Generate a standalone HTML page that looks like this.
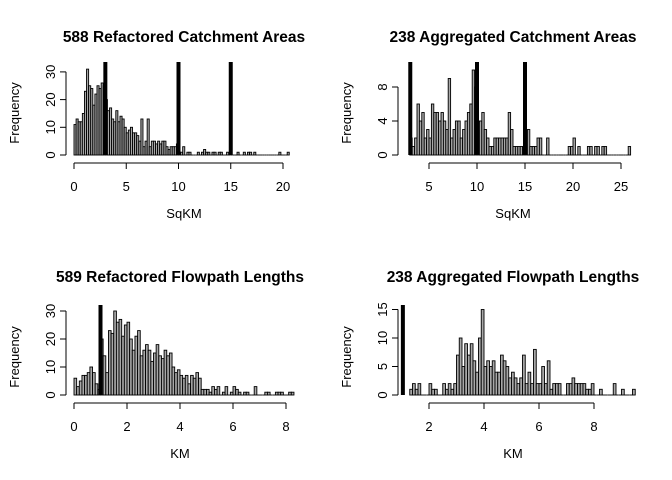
<!DOCTYPE html>
<html><head><meta charset="utf-8"><style>
body{margin:0;background:#fff}
svg{display:block;font-family:"Liberation Sans",Arial,sans-serif}
</style></head><body>
<svg id="c" width="672" height="480" viewBox="0 0 672 480"></svg>
<script>
const p1Values=[11,13,12,12,15,23,31,25,24,18,22,25,24,26,25,20,16,17,13,12,16,12,14,13,10,8,9,10,8,8,7,5,13,3,5,13,3,5,5,4,5,4,5,5,3,2,3,3,3,4,1,1,3,0,1,1,0,0,0,1,0,1,2,1,1,0,1,1,0,1,1,0,0,1,0,0,0,0,1,0,0,1,0,1,1,0,1,0,0,0,0,0,0,0,0,0,0,0,1,0,0,0,1];
const p1Lines=[3,10,15];
const p1XTicks=[0,5,10,15,20];
const p1YTicks=[0,10,20,30];
const p2Values=[2,1,2,6,4,5,2,3,2,6,5,5,4,5,4,3,9,2,3,4,4,2,3,4,5,6,10,8,3,4,5,3,2,1,1,2,2,2,2,2,2,5,3,1,1,1,1,1,1,3,1,1,1,2,2,0,0,2,0,0,0,0,0,0,0,0,1,1,2,0,1,0,0,0,1,1,0,1,1,0,1,1,0,0,0,0,0,0,0,0,0,1];
const p2Lines=[3.05,10,15];
const p2XTicks=[5,10,15,20,25];
const p2YTicks=[0,4,8];
const p3Values=[6,3,5,7,7,8,10,8,4,2,20,14,8,23,22,30,26,27,21,25,26,20,16,21,23,14,16,18,16,12,15,18,14,13,16,14,15,10,8,9,7,6,7,4,7,6,8,6,2,2,2,1,3,2,3,0,1,3,0,1,3,2,1,0,1,1,0,0,3,0,0,0,1,1,0,0,1,1,1,0,0,1,1];
const p3Lines=[1];
const p3XTicks=[0,2,4,6,8];
const p3YTicks=[0,10,20,30];
const p4Values=[1,2,1,2,0,0,0,2,1,1,0,0,2,1,2,1,2,7,10,5,9,7,9,6,4,10,15,5,6,5,6,4,4,7,6,5,3,4,3,2,3,7,2,4,2,8,2,2,5,2,6,1,2,2,2,0,0,2,2,3,2,2,2,2,1,1,2,0,0,1,0,0,0,0,2,0,0,1,0,0,0,1];
const p4Lines=[1.05];
const p4XTicks=[2,4,6,8];
const p4YTicks=[0,5,10,15];

const NS="http://www.w3.org/2000/svg";
const svg=document.getElementById('c');
function mk(tag,attrs,parent){const e=document.createElementNS(NS,tag);for(const k in attrs)e.setAttribute(k,attrs[k]);(parent||svg).appendChild(e);return e;}
function panel(cfg){
  const g=mk('g',{});
  
  
  const sx=v=>cfg.x0+(v-cfg.xv0)*cfg.xs;
  const sy=v=>cfg.y0-v*cfg.ys;
  cfg.values.forEach((v,i)=>{
    if(v<=0){const l=mk('line',{x1:sx(cfg.start+i*cfg.bw),x2:sx(cfg.start+(i+1)*cfg.bw),y1:cfg.y0,y2:cfg.y0,stroke:'#000','stroke-width':0.9},g);
      
      return;}
    const r=mk('rect',{x:sx(cfg.start+i*cfg.bw),y:sy(v),width:cfg.bw*cfg.xs,height:v*cfg.ys,fill:'#a8a8a8',stroke:'#000','stroke-width':0.9},g);
    
    
  });
  cfg.lines.forEach(v=>{
    const l=mk('line',{x1:sx(v),x2:sx(v),y1:cfg.lineTop,y2:cfg.y0,stroke:'#000','stroke-width':4},g);
    
    
  });
  const xt=cfg.xticks;
  const xa=mk('line',{x1:sx(xt[0]),x2:sx(xt[xt.length-1]),y1:cfg.y0+8,y2:cfg.y0+8,stroke:'#000'},g);
  
  
  xt.forEach(t=>{
    mk('line',{x1:sx(t),x2:sx(t),y1:cfg.y0+8,y2:cfg.y0+14,stroke:'#000'},g);
    const tx=mk('text',{x:sx(t),y:cfg.y0+36,'text-anchor':'middle','font-size':13},g);
    tx.textContent=t;
    
    
  });
  const yt=cfg.yticks;
  const ax=cfg.yAxisX;
  const ya=mk('line',{x1:ax,x2:ax,y1:sy(yt[yt.length-1]),y2:sy(yt[0]),stroke:'#000'},g);
  
  
  yt.forEach(t=>{
    mk('line',{x1:ax-6,x2:ax,y1:sy(t),y2:sy(t),stroke:'#000'},g);
    const tx=mk('text',{x:ax-11,y:sy(t),'text-anchor':'middle','font-size':13,transform:`rotate(-90 ${ax-11} ${sy(t)})`},g);
    tx.textContent=t;
    
    
  });
  const ti=mk('text',{x:cfg.cx,y:cfg.titleY,'text-anchor':'middle','font-size':15.5,'font-weight':'bold'},g);
  ti.textContent=cfg.title;
  
  
  const xl=mk('text',{x:cfg.cx,y:cfg.y0+63,'text-anchor':'middle','font-size':13},g);
  xl.textContent=cfg.xlab;
  
  
  const fx=cfg.yAxisX-47, fy=cfg.yMid;
  const yl=mk('text',{x:fx,y:fy,'text-anchor':'middle','font-size':13,transform:`rotate(-90 ${fx} ${fy})`},g);
  yl.textContent='Frequency';
  
  
}
panel({name:'panel-refactored-catchments',values:p1Values,start:0,bw:0.2,lines:p1Lines,xticks:p1XTicks,yticks:p1YTicks,
 x0:74,xv0:0,xs:10.45,y0:155,ys:2.77,lineTop:62,yAxisX:66,cx:184,titleY:42,yMid:113,title:'588 Refactored Catchment Areas',xlab:'SqKM'});
panel({name:'panel-aggregated-catchments',values:p2Values,start:3.0,bw:0.25,lines:p2Lines,xticks:p2XTicks,yticks:p2YTicks,
 x0:429,xv0:5,xs:9.6,y0:155,ys:8.5,lineTop:62,yAxisX:398,cx:513,titleY:42,yMid:113,title:'238 Aggregated Catchment Areas',xlab:'SqKM'});
panel({name:'panel-refactored-flowpaths',values:p3Values,start:0,bw:0.1,lines:p3Lines,xticks:p3XTicks,yticks:p3YTicks,
 x0:74,xv0:0,xs:26.5,y0:395,ys:2.8,lineTop:305,yAxisX:66,cx:180,titleY:282,yMid:357,title:'589 Refactored Flowpath Lengths',xlab:'KM'});
panel({name:'panel-aggregated-flowpaths',values:p4Values,start:1.3,bw:0.1,lines:p4Lines,xticks:p4XTicks,yticks:p4YTicks,
 x0:429,xv0:2,xs:27.5,y0:395,ys:5.7,lineTop:305,yAxisX:398,cx:513,titleY:282,yMid:357,title:'238 Aggregated Flowpath Lengths',xlab:'KM'});
</script>
</body></html>
